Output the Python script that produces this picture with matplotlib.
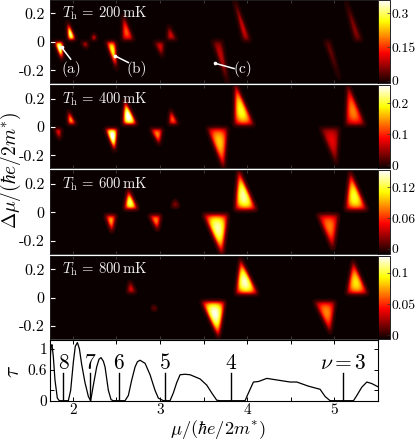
import numpy as np
import matplotlib
matplotlib.use("Agg")
import matplotlib.pyplot as plt

plt.rcParams['font.family'] = ['cmr10', 'DejaVu Serif']
plt.rcParams['mathtext.fontset'] = 'cm'
plt.rcParams['axes.unicode_minus'] = False
plt.rcParams['axes.formatter.use_mathtext'] = True

# Each lobe: (mu, dmu) of three corners, then peak value
lobes_200 = [
    ((1.943, .125), (2.023, .014), (1.950, .014), .33),
    ((2.241, .047), (2.264, .014), (2.222, .014), .10),
    ((2.581, .172), (2.688, .014), (2.573, .014), .17),
    ((3.101, .101), (3.181, .014), (3.089, .014), .10),
    ((3.854, .289), (4.026, .014), (3.957, .014), .10),
    ((5.142, .266), (5.307, .014), (5.238, .014), .06),
    ((1.797, -.012), (1.881, -.012), (1.874, -.127), .36),
    ((2.107, -.012), (2.168, -.012), (2.153, -.047), .08),
    ((2.390, -.012), (2.485, -.012), (2.497, -.186), .28),
    ((2.944, -.012), (3.040, -.012), (3.024, -.104), .10),
    ((3.613, -.012), (3.709, -.012), (3.774, -.287), .09),
    ((4.901, -.012), (4.951, -.012), (5.054, -.252), .04),
]
lobes_400 = [
    ((1.950, .106), (2.027, .021), (1.950, .021), .15),
    ((2.600, .176), (2.726, .021), (2.581, .021), .27),
    ((3.124, .113), (3.200, .021), (3.109, .021), .12),
    ((3.869, .294), (4.064, .021), (3.862, .021), .20),
    ((5.161, .285), (5.341, .021), (5.142, .021), .14),
    ((1.797, -.021), (1.862, -.021), (1.847, -.087), .08),
    ((2.382, -.021), (2.505, -.021), (2.478, -.165), .27),
    ((2.898, -.021), (3.021, -.021), (2.990, -.122), .14),
    ((3.556, -.021), (3.766, -.021), (3.728, -.287), .17),
    ((4.855, -.021), (5.047, -.021), (5.020, -.252), .08),
]
lobes_600 = [
    ((2.638, .148), (2.734, .026), (2.600, .026), .13),
    ((3.174, .078), (3.208, .040), (3.147, .040), .02),
    ((3.907, .280), (4.091, .026), (3.873, .026), .14),
    ((5.188, .266), (5.360, .026), (5.142, .026), .12),
    ((2.382, -.028), (2.485, -.028), (2.447, -.132), .09),
    ((2.887, -.028), (3.002, -.028), (2.971, -.120), .08),
    ((3.518, -.028), (3.766, -.028), (3.709, -.285), .14),
    ((4.825, -.028), (5.035, -.028), (4.982, -.245), .08),
]
lobes_800 = [
    ((2.657, .106), (2.715, .035), (2.631, .035), .035),
    ((3.927, .254), (4.110, .030), (3.881, .030), .12),
    ((5.219, .240), (5.372, .030), (5.154, .030), .09),
    ((2.925, -.064), (2.956, -.085), (2.917, -.085), .012),
    ((3.491, -.040), (3.735, -.040), (3.670, -.271), .125),
    ((4.787, -.040), (5.000, -.040), (4.951, -.240), .07),
]
temperatures = [200, 400, 600, 800]
color_limits = [(-.012, .36), (-.01, .258), (-.01, .153), (-.006, .127)]
color_ticks = [[0, .15, .3], [0, .1, .2], [0, .06, .12], [0, .05, .1]]
color_ticklabels = [['0', '0.15', '0.3'], ['0', '0.1', '0.2'],
                    ['0', '0.06', '0.12'], ['0', '0.05', '0.1']]

tau_mu = [1.74, 1.752, 1.763, 1.778, 1.797, 1.824, 1.847, 1.95, 1.977, 2.008, 2.03, 2.054,
          2.077, 2.103, 2.141, 2.18, 2.206, 2.237, 2.275, 2.302, 2.325, 2.352, 2.371, 2.409,
          2.44, 2.466, 2.6, 2.638, 2.677, 2.715, 2.742, 2.772, 2.83, 2.887, 2.944, 2.982,
          3.04, 3.116, 3.154, 3.193, 3.231, 3.288, 3.346, 3.46, 3.537, 3.594, 3.651, 3.69,
          3.976, 4.015, 4.072, 4.13, 4.225, 4.34, 4.492, 4.569, 4.703, 4.836, 4.894, 4.951,
          5.219, 5.257, 5.314, 5.372, 5.429, 5.498]
tau_val = [.75, 1.05, 1.08, .85, .4, .05, 0, 0, .2, .75, 1.05, 1.12,
           1.0, .7, .35, .08, 0, .3, .65, .8, .83, .76, .65, .2,
           .02, 0, 0, .1, .4, .65, .75, .78, .72, .5, .2, .05,
           0, 0, .15, .35, .5, .51, .5, .42, .3, .15, .01, 0,
           0, .15, .36, .37, .43, .4, .36, .36, .28, .22, .08, 0,
           0, .1, .26, .36, .33, .27]
nu_labels = ['8', '7', '6', '5', '4', r'$\nu=3$']
nu_mu = [1.893, 2.20, 2.53, 3.06, 3.81, 5.10]

W, H = 415, 440
XLIM = (1.74, 5.5)
YLIM = (-.293, .293)
fig = plt.figure(figsize=(W / 100, H / 100), dpi=100)


def box(x0, y0, x1, y1):
    return [x0 / W, 1 - y1 / H, (x1 - x0) / W, (y1 - y0) / H]


def blur(Z, sigma):
    r = int(3 * sigma) + 1
    k = np.exp(-0.5 * (np.arange(-r, r + 1) / sigma) ** 2)
    k /= k.sum()
    Z = np.apply_along_axis(lambda v: np.convolve(v, k, mode='same'), 0, Z)
    return np.apply_along_axis(lambda v: np.convolve(v, k, mode='same'), 1, Z)


def field(lobes, floor):
    mu = np.linspace(XLIM[0] - .1, XLIM[1] + .1, 700)
    d = np.linspace(YLIM[0] - .05, YLIM[1] + .05, 190)
    X, Y = np.meshgrid(mu, d)
    Z = np.zeros_like(X)
    for a, b, c, peak in lobes:
        P = np.array([a, b, c])
        G = P.mean(axis=0)
        P = G + (P - G) * 1.14
        den = (P[1, 1] - P[2, 1]) * (P[0, 0] - P[2, 0]) + (P[2, 0] - P[1, 0]) * (P[0, 1] - P[2, 1])
        l1 = ((P[1, 1] - P[2, 1]) * (X - P[2, 0]) + (P[2, 0] - P[1, 0]) * (Y - P[2, 1])) / den
        l2 = ((P[2, 1] - P[0, 1]) * (X - P[2, 0]) + (P[0, 0] - P[2, 0]) * (Y - P[2, 1])) / den
        l3 = 1 - l1 - l2
        prod = np.clip(l1, 0, 1) * np.clip(l2, 0, 1) * np.clip(l3, 0, 1)
        blob = blur((27 * prod) ** 0.55, 2.2)
        Z = np.maximum(Z, peak * blob / max(blob.max(), 1e-6))
    return mu, d, Z + floor * (Z < 1e-4)


panels = [(0, 83.5), (85.5, 168.5), (170.5, 254), (256, 339)]
all_lobes = [lobes_200, lobes_400, lobes_600, lobes_800]
for i, (y0, y1) in enumerate(panels):
    ax = fig.add_axes(box(50, y0, 378, y1))
    lo, hi = color_limits[i]
    mu, d, Z = field(all_lobes[i], lo)
    im = ax.imshow(Z, extent=[mu[0], mu[-1], d[0], d[-1]], origin='lower', aspect='auto',
                   cmap='hot', vmin=lo, vmax=hi, interpolation='bilinear')
    ax.set_xlim(*XLIM)
    ax.set_ylim(*YLIM)
    ax.set_xticks([2, 2.5, 3, 3.5, 4, 4.5, 5])
    ax.set_yticks([.2, 0, -.2])
    ax.set_yticklabels(['0.2', '0', '-0.2'])
    ax.tick_params(axis='y', direction='in', length=3.5, width=.8, color='white',
                   labelsize=11.5, pad=4, right=False)
    ax.tick_params(axis='x', direction='in', length=2, width=.6, color='#444444',
                   labelbottom=False, top=True)
    for s in ax.spines.values():
        s.set_linewidth(.6)
        s.set_color('#222222')
    ax.text(.036, .84, rf'$T_{{\mathrm{{h}}}}\,=\,{temperatures[i]}\,\mathrm{{mK}}$',
            transform=ax.transAxes, color='#eeeeee', fontsize=10.6, va='center', ha='left')
    cax = fig.add_axes(box(378, y0, 389.5, y1))
    cb = fig.colorbar(im, cax=cax)
    cb.set_ticks(color_ticks[i])
    cb.set_ticklabels(color_ticklabels[i])
    cb.ax.tick_params(labelsize=9.8, length=2, width=.5, direction='in', pad=1.5, color='#333333')
    cb.outline.set_linewidth(.6)
    if i == 0:
        for start, end, lab in [((1.874, -.04), (1.977, -.122), '(a)'),
                                ((2.485, -.099), (2.638, -.146), '(b)'),
                                ((3.632, -.151), (3.85, -.188), '(c)')]:
            ax.plot([start[0], end[0]], [start[1], end[1]], color='white', lw=1.1)
            ax.plot(*start, 'o', color='white', ms=1.6)
            ax.text(end[0] + (.012 if lab == '(a)' else .096), -.188, lab, color='#eeeeee',
                    fontsize=11, ha='center', va='center')

bx = fig.add_axes(box(50, 340, 378, 400.7))
bx.plot(tau_mu, tau_val, color='black', lw=.9)
bx.set_xlim(*XLIM)
bx.set_ylim(0, 1.17)
for m, lab in zip(nu_mu, nu_labels):
    bx.plot([m, m], [0, .54], color='black', lw=1)
    bx.text(m, .72, lab, fontsize=15.5, ha='center', va='center')
bx.set_xticks([2, 3, 4, 5])
bx.set_xticklabels(['2', '3', '4', '5'])
bx.set_xticks([2.5, 3.5, 4.5], minor=True)
bx.set_yticks([0, .6, 1])
bx.set_yticklabels(['0', '0.6', '1'])
bx.set_yticks([.2], minor=True)
bx.tick_params(which='both', direction='in', top=True, right=True, length=3, width=.7,
               labelsize=11, pad=2)
for s in bx.spines.values():
    s.set_linewidth(.8)

fig.text(11 / W, 1 - 170 / H, r'$\Delta\mu/(\hbar e/2m^{*})$', rotation=90, fontsize=14,
         ha='center', va='center')
fig.text(13 / W, 1 - 371 / H, r'$\tau$', rotation=90, fontsize=15.5, ha='center', va='center')
fig.text(218 / W, 1 - 429 / H, r'$\mu/(\hbar e/2m^{*})$', fontsize=13.2, ha='center', va='center')

fig.savefig('out.png', dpi=100)
